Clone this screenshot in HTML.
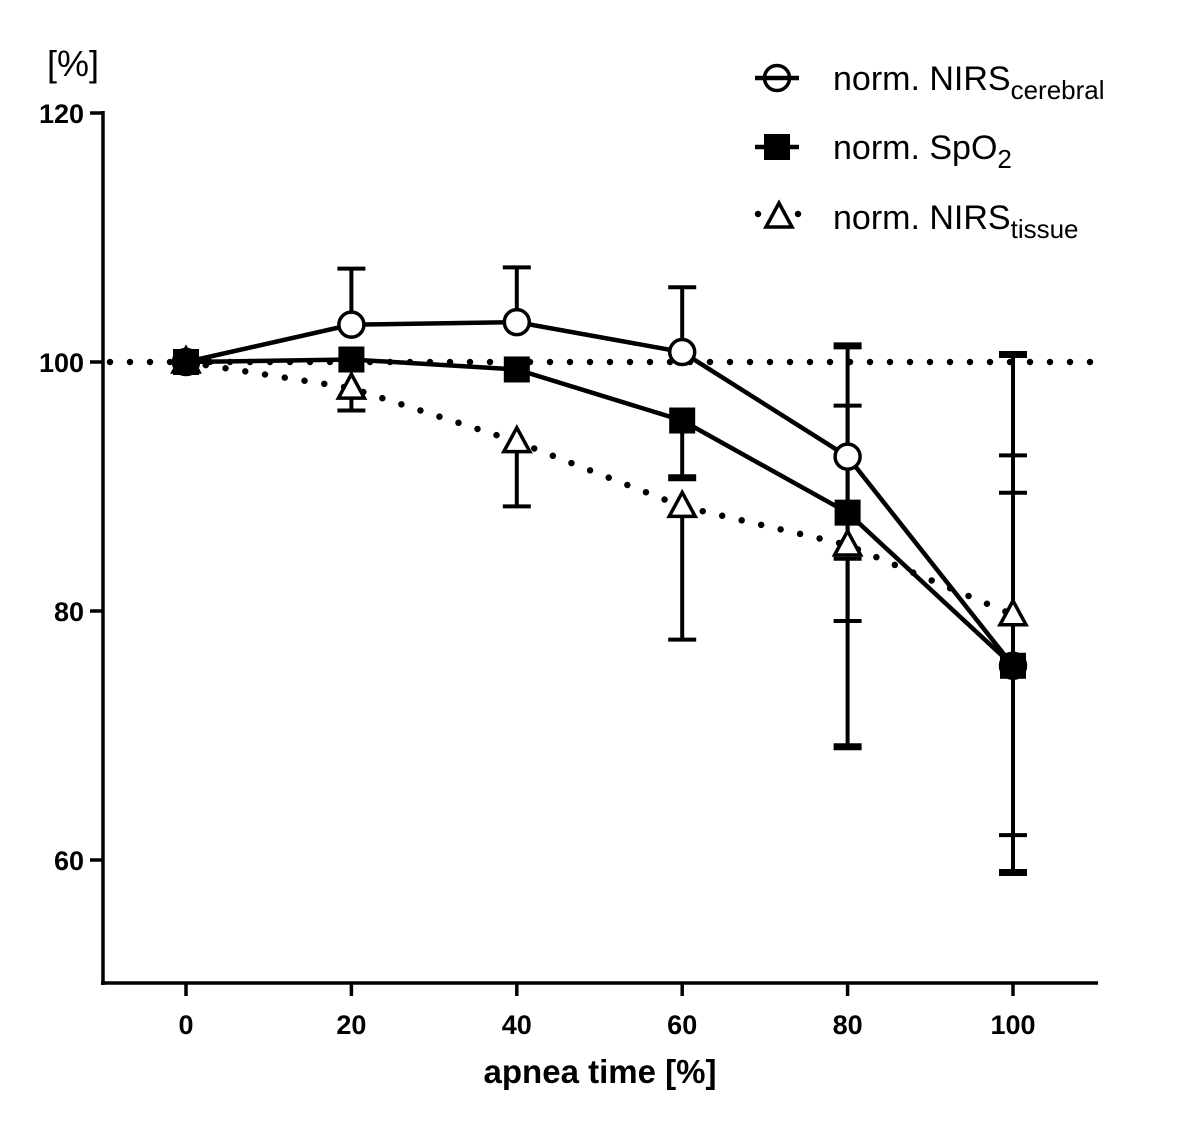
<!DOCTYPE html>
<html><head><meta charset="utf-8"><style>
html,body{margin:0;padding:0;background:#fff;}
svg{display:block;font-family:"Liberation Sans",Arial,sans-serif;}
</style></head><body>
<svg id="chart" width="1200" height="1123" viewBox="0 0 1200 1123"></svg>
<script>
const categories=[0,20,40,60,80,100];
const cerebral=[100,103.0,103.2,100.8,92.4,75.6];
const cerebralHi=[100,107.5,107.6,106.0,96.5,92.5];
const cerebralLo=[100,103.0,103.2,100.8,84.2,75.6];
const spo2=[100,100.2,99.4,95.3,87.9,75.6];
const spo2Hi=[100,100.2,99.4,95.3,101.3,100.6];
const spo2Lo=[100,100.2,99.4,90.7,69.1,59.0];
const tissue=[100,97.9,93.6,88.4,85.3,79.7];
const tissueHi=[100,97.9,93.6,88.4,85.3,89.5];
const tissueLo=[100,96.1,88.4,77.7,79.2,62.0];
const yTicks=[60,80,100,120];
const xTicks=[0,20,40,60,80,100];

const NS="http://www.w3.org/2000/svg";
const svg=document.getElementById('chart');
const X=v=>186+(v-0)*(1013-186)/100;
const Y=v=>362-(v-100)*(362-113)/20;
function mk(tag,attrs,parent){const e=document.createElementNS(NS,tag);for(const k in attrs)e.setAttribute(k,attrs[k]);(parent||svg).appendChild(e);return e;}

const ax=mk('g',{});


mk('line',{x1:103,y1:111,x2:103,y2:985,stroke:'#000','stroke-width':3.5},ax);
mk('line',{x1:101,y1:983,x2:1098,y2:983,stroke:'#000','stroke-width':3.5},ax);
yTicks.forEach(t=>{
  mk('line',{x1:90,y1:Y(t),x2:103,y2:Y(t),stroke:'#000','stroke-width':3.5},ax);
  const tx=mk('text',{x:84,y:Y(t)+10,'text-anchor':'end','font-size':27,'font-weight':'bold'},ax);
  tx.textContent=t;
  
  
});
xTicks.forEach(t=>{
  mk('line',{x1:X(t),y1:983,x2:X(t),y2:996,stroke:'#000','stroke-width':3.5},ax);
  const tx=mk('text',{x:X(t),y:1034,'text-anchor':'middle','font-size':27,'font-weight':'bold'},ax);
  tx.textContent=t;
  
  
});
const xt=mk('text',{x:600,y:1083,'text-anchor':'middle','font-size':33,'font-weight':'bold'});
xt.textContent='apnea time [%]';


const yt=mk('text',{x:73,y:76,'text-anchor':'middle','font-size':36});
yt.textContent='[%]';



const ref=mk('line',{x1:110,y1:Y(100),x2:1097,y2:Y(100),stroke:'#000','stroke-width':6.5,'stroke-dasharray':'0 20','stroke-linecap':'round'});



function errBars(vals,hi,lo,w,name){
  const g=mk('g',{});
  
  
  categories.forEach((c,i)=>{
    [hi[i],lo[i]].forEach(e=>{
      if(Math.abs(e-vals[i])<0.05)return;
      mk('line',{x1:X(c),y1:Y(vals[i]),x2:X(c),y2:Y(e),stroke:'#000','stroke-width':4},g);
      mk('line',{x1:X(c)-14,y1:Y(e),x2:X(c)+14,y2:Y(e),stroke:'#000','stroke-width':w},g);
    });
  });
}
errBars(cerebral,cerebralHi,cerebralLo,4,'cerebral-error-bars');
errBars(spo2,spo2Hi,spo2Lo,7,'spo2-error-bars');
errBars(tissue,tissueHi,tissueLo,4,'tissue-error-bars');

function pts(vals){return categories.map((c,i)=>X(c)+','+Y(vals[i])).join(' ');}
const lt=mk('polyline',{points:pts(tissue),fill:'none',stroke:'#000','stroke-width':6.5,'stroke-dasharray':'0 20','stroke-linecap':'round'});


const ls=mk('polyline',{points:pts(spo2),fill:'none',stroke:'#000','stroke-width':4.5});


const lc=mk('polyline',{points:pts(cerebral),fill:'none',stroke:'#000','stroke-width':4.5});



function tri(cx,cy,parent){return mk('polygon',{points:`${cx},${cy-14} ${cx-13},${cy+10} ${cx+13},${cy+10}`,fill:'#fff',stroke:'#000','stroke-width':3.5},parent);}
categories.forEach((c,i)=>{
  const t=tri(X(c),Y(tissue[i]));
  
  
});
categories.forEach((c,i)=>{
  const last=i===categories.length-1;
  const p=mk('circle',{cx:X(c),cy:Y(cerebral[i]),r:12.5,fill:last?'#000':'#fff',stroke:'#000','stroke-width':3.5});
  
  
});
categories.forEach((c,i)=>{
  const s=mk('rect',{x:X(c)-13,y:Y(spo2[i])-13,width:26,height:26,fill:'#000'});
  
  
});

const lg=mk('g',{});


function legText(y,main,sub){
  const t=mk('text',{x:833,y:y+12,'font-size':34},lg);
  t.textContent=main;
  const s=mk('tspan',{'font-size':26,dy:9},t);
  s.textContent=sub;
  
  
}
mk('line',{x1:755,y1:78,x2:799,y2:78,stroke:'#000','stroke-width':4.5},lg);
mk('circle',{cx:777,cy:78,r:12.5,fill:'none',stroke:'#000','stroke-width':3.5},lg);
legText(78,'norm. NIRS','cerebral');
mk('line',{x1:755,y1:147,x2:799,y2:147,stroke:'#000','stroke-width':4.5},lg);
mk('rect',{x:764,y:134,width:26,height:26,fill:'#000'},lg);
legText(147,'norm. SpO','2');
mk('line',{x1:758,y1:214,x2:800,y2:214,stroke:'#000','stroke-width':6.5,'stroke-dasharray':'0 20','stroke-linecap':'round'},lg);
tri(779,217,lg);
legText(217,'norm. NIRS','tissue');
</script>
</body></html>
